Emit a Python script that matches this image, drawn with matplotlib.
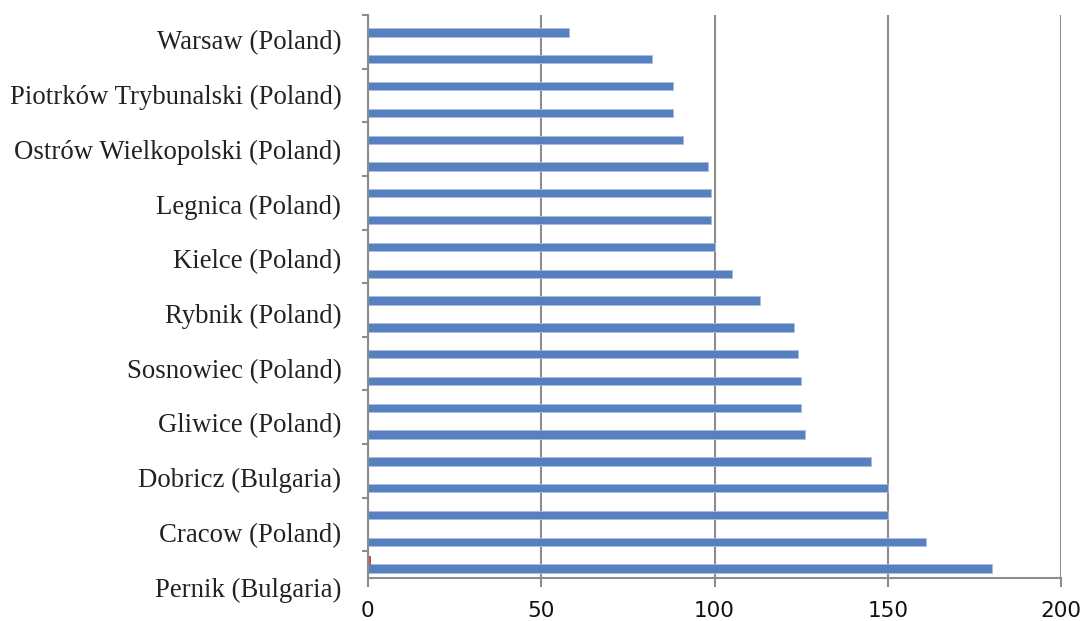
import matplotlib
matplotlib.use("Agg")
import matplotlib.pyplot as plt
import matplotlib.transforms as mtransforms
import numpy as np

# Cities listed bottom to top; only every other category carries a name
labelled_cities = [
    "Pernik (Bulgaria)",
    "Cracow (Poland)",
    "Dobricz (Bulgaria)",
    "Gliwice (Poland)",
    "Sosnowiec (Poland)",
    "Rybnik (Poland)",
    "Kielce (Poland)",
    "Legnica (Poland)",
    "Ostrów Wielkopolski (Poland)",
    "Piotrków Trybunalski (Poland)",
    "Warsaw (Poland)",
]

# Main series, bottom to top (21 categories)
series_main = [180, 161, 150, 150, 145, 126, 125, 125, 124, 123, 113,
               105, 100, 99, 99, 98, 91, 88, 88, 82, 58]
# Second series (only the lowest category has a visible value)
series_second = [1] + [0] * 20

x_ticks = [0, 50, 100, 150, 200]

BLUE = "#5680C0"
RED = "#C0504D"
GRID = "#8C8C8C"

fig = plt.figure(figsize=(10.86, 6.21), dpi=100)
ax = fig.add_axes([0.3386, 0.0692, 0.6387, 0.9066])

n = len(series_main)
pos = np.arange(n)
bar_h = 0.31
ax.barh(pos - 0.15, series_main, height=bar_h, color=BLUE,
        edgecolor="#A9BEE0", linewidth=0.6, zorder=3)
ax.barh(pos + 0.15, series_second, height=bar_h, color=RED, zorder=3)

# vertical gridlines
ax.set_xticks(x_ticks)
ax.set_xticklabels([str(t) for t in x_ticks], fontsize=15.5,
                   family="DejaVu Sans", color="#111111")
ax.xaxis.grid(True, color=GRID, linewidth=1.5, zorder=0)
ax.tick_params(axis="x", length=6.5, width=1.5, color=GRID, pad=10)

# category labels on every other category boundary
label_idx = pos[::2]
ax.set_yticks(label_idx - 0.5)
ax.set_yticklabels(labelled_cities, fontsize=19.25, family="Liberation Serif",
                   color="#222222")
ax.tick_params(axis="y", which="major", length=0, pad=19)
ax.set_yticks(np.arange(-0.5, n + 0.5, 1.0), minor=True)
ax.tick_params(axis="y", which="minor", length=4.5, width=1.5, color=GRID)

ax.set_xlim(0, 200)
ax.set_ylim(-0.5, n - 0.5)

# labels sit a little lower towards the bottom of the list
for i, lab in zip(label_idx, ax.get_yticklabels()):
    shift_px = -2 + (n - 1 - i) / (n - 1) * 11
    lab.set_transform(lab.get_transform() + mtransforms.ScaledTranslation(
        0, -shift_px / 100, fig.dpi_scale_trans))

for side in ("top", "right"):
    ax.spines[side].set_visible(False)
for side in ("left", "bottom"):
    ax.spines[side].set_color(GRID)
    ax.spines[side].set_linewidth(1.5)
    ax.spines[side].set_zorder(4)

fig.savefig("out.png", dpi=100)
